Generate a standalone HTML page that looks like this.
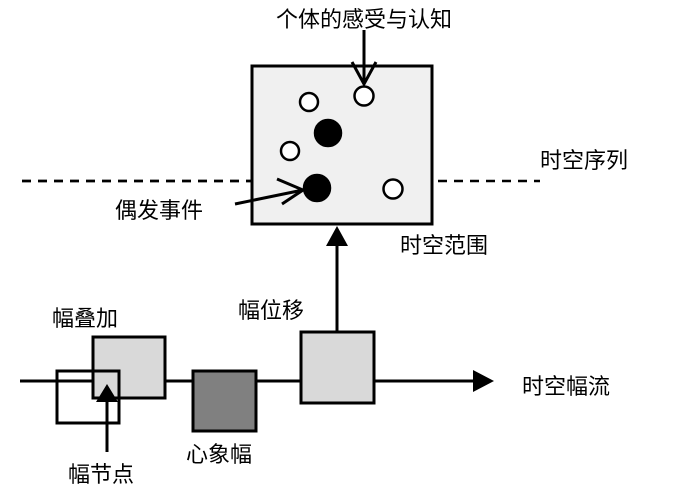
<!DOCTYPE html>
<html><head><meta charset="utf-8"><style>
body{margin:0;background:#fff;}
svg text{font-family:"Liberation Sans","Noto Sans CJK SC",sans-serif;font-size:22px;fill:#000;}
</style></head><body>
<svg width="700" height="496" viewBox="0 0 700 496" xmlns="http://www.w3.org/2000/svg">
<rect width="700" height="496" fill="#fff"/>
<line x1="22" y1="181" x2="540" y2="181" stroke="#000" stroke-width="2.5" stroke-dasharray="9,7"/>
<rect x="252" y="66" width="180" height="158" fill="#f0f0f0" stroke="#000" stroke-width="3"/>
<line x1="22" y1="181" x2="252" y2="181" stroke="#000" stroke-width="2.5" stroke-dasharray="9,7"/>
<g stroke="#000" stroke-width="2.5">
<circle cx="309" cy="102" r="9" fill="#fff"/>
<circle cx="364" cy="96" r="9.5" fill="#fff"/>
<circle cx="328" cy="133" r="13" fill="#000"/>
<circle cx="290" cy="151" r="9" fill="#fff"/>
<circle cx="317" cy="188" r="13" fill="#000"/>
<circle cx="393" cy="189" r="9.5" fill="#fff"/>
</g>
<g stroke="#000" stroke-width="3" fill="none">
<line x1="364" y1="30" x2="364" y2="84"/>
<polyline points="352,62 364,84 376,62"/>
<line x1="235" y1="204" x2="303" y2="190"/>
<polyline points="277,179 303,190 282,204"/>
<line x1="337" y1="332" x2="337" y2="240"/>
<line x1="20" y1="381" x2="478" y2="381"/>
<line x1="107" y1="452" x2="107" y2="400"/>
</g>
<polygon points="326,246 337,226 348,246" fill="#000"/>
<polygon points="473,370 494,381 473,392" fill="#000"/>
<rect x="93" y="337" width="72" height="61" fill="#d9d9d9" stroke="#000" stroke-width="3"/>
<rect x="57" y="371" width="62" height="52" fill="none" stroke="#000" stroke-width="3"/>
<polygon points="96,402 107,384 118,402" fill="#000"/>
<rect x="193" y="371" width="63" height="60" fill="#808080" stroke="#000" stroke-width="3"/>
<rect x="301" y="332" width="73" height="71" fill="#d9d9d9" stroke="#000" stroke-width="3"/>
<text x="364" y="27" text-anchor="middle">个体的感受与认知</text>
<text x="540" y="168">时空序列</text>
<text x="115" y="218">偶发事件</text>
<text x="400" y="253">时空范围</text>
<text x="238" y="318">幅位移</text>
<text x="52" y="326">幅叠加</text>
<text x="522" y="394">时空幅流</text>
<text x="186" y="462">心象幅</text>
<text x="68" y="482">幅节点</text>
</svg>
</body></html>
